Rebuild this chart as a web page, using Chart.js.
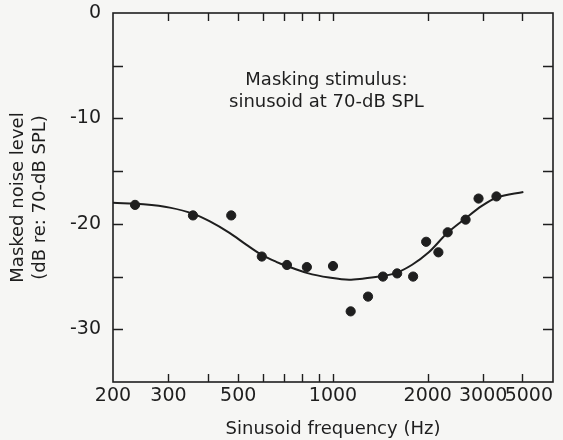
<!DOCTYPE html>
<html>
<head>
<meta charset="utf-8">
<script src="https://cdn.jsdelivr.net/npm/chart.js@4/dist/chart.umd.min.js"></script>
<style>
  html, body { margin: 0; padding: 0; background: #f6f6f4; }
  #c { display: block; }
</style>
</head>
<body>
<canvas id="c" width="563" height="440"></canvas>
<script>
// ---- data ----
const pointFreqs  = [235, 359, 475, 594, 714, 826, 1000, 1138, 1292, 1441, 1599, 1797, 1977, 2162, 2314, 2638, 2900, 3306];
const pointLevels = [-18.2, -19.2, -19.2, -23.1, -23.9, -24.1, -24.0, -28.3, -26.9, -25.0, -24.7, -25.0, -21.7, -22.7, -20.8, -19.6, -17.6, -17.4];

const curveFreqs  = [200, 250, 303, 360, 405, 469, 530, 594, 660, 709, 830, 972, 1125, 1240, 1400, 1581, 1784, 2015, 2303, 2633, 2971, 3314, 4025];
const curveLevels = [-18.0, -18.15, -18.46, -19.05, -19.74, -20.85, -21.97, -22.95, -23.6, -23.97, -24.67, -25.09, -25.3, -25.2, -25.0, -24.67, -23.88, -22.7, -20.9, -19.5, -18.3, -17.5, -16.97];

const xTickValues = [200, 300, 400, 500, 600, 700, 800, 900, 1000, 2000, 3000, 4000, 5000];
const xTickLabels = [200, 300, 500, 1000, 2000, 3000, 5000];
const yLabelValues = [0, -10, -20, -30];

const xTitle = 'Sinusoid frequency (Hz)';
const yTitle = ['Masked noise level', '(dB re: 70-dB SPL)'];
const noteLines = ['Masking stimulus:', 'sinusoid at 70-dB SPL'];

// ---- chart ----
const INK = '#1e1e1e';
const FONT = "'DejaVu Sans', sans-serif";

const framePlugin = {
  id: 'frame',
  afterDatasetsDraw(chart) {
    const { ctx, chartArea: a, scales } = chart;
    const x = scales.x, y = scales.y;
    ctx.save();
    ctx.strokeStyle = INK;
    ctx.lineWidth = 1.6;
    ctx.strokeRect(a.left, a.top, a.right - a.left, a.bottom - a.top);
    ctx.lineWidth = 1.4;
    ctx.beginPath();
    xTickValues.forEach(v => {
      if (v <= x.min || v >= x.max) return;
      const px = Math.round(x.getPixelForValue(v)) + 0.5;
      ctx.moveTo(px, a.bottom); ctx.lineTo(px, a.bottom - 8);
      ctx.moveTo(px, a.top); ctx.lineTo(px, a.top + 8);
    });
    for (let v = y.max; v >= y.min; v -= 5) {
      if (v === y.max || v === y.min) continue;
      const py = Math.round(y.getPixelForValue(v)) + 0.5;
      ctx.moveTo(a.left, py); ctx.lineTo(a.left + 10, py);
      ctx.moveTo(a.right, py); ctx.lineTo(a.right - 10, py);
    }
    ctx.stroke();
    ctx.fillStyle = INK;
    ctx.font = "18px " + FONT;
    ctx.textAlign = 'center';
    ctx.textBaseline = 'middle';
    const cx = a.left + (a.right - a.left) * 0.485;
    noteLines.forEach((t, i) => ctx.fillText(t, cx, a.top + 67 + i * 22));
    ctx.restore();
  }
};

new Chart(document.getElementById('c'), {
  type: 'scatter',
  data: {
    datasets: [
      {
        label: 'fit',
        data: curveFreqs.map((f, i) => ({ x: f, y: curveLevels[i] })),
        showLine: true,
        borderColor: INK,
        borderWidth: 2,
        pointRadius: 0,
        cubicInterpolationMode: 'monotone',
        order: 2
      },
      {
        label: 'data',
        data: pointFreqs.map((f, i) => ({ x: f, y: pointLevels[i] })),
        showLine: false,
        backgroundColor: INK,
        borderColor: INK,
        pointRadius: 4.6,
        order: 1
      }
    ]
  },
  options: {
    responsive: false,
    animation: false,
    layout: { padding: { top: 13, right: 10, left: 0, bottom: 0 } },
    plugins: { legend: { display: false }, tooltip: { enabled: false } },
    scales: {
      x: {
        type: 'logarithmic',
        min: 200, max: 5000,
        afterBuildTicks(scale) { scale.ticks = xTickValues.map(v => ({ value: v })); },
        afterFit(scale) { scale.height = 58; scale.paddingLeft = 0; scale.paddingRight = 0; },
        grid: { display: false, drawTicks: false },
        border: { display: false },
        ticks: {
          autoSkip: false, maxRotation: 0, padding: 3,
          color: INK, font: { family: FONT, size: 19 },
          callback(v) {
            if (!xTickLabels.includes(v)) return '';
            return v === 5000 ? '5000\u2007\u2007\u2007\u2007' : String(v);
          }
        },
        title: {
          display: true, text: xTitle, color: INK,
          font: { family: FONT, size: 18 }, padding: { top: 4, bottom: 0 }
        }
      },
      y: {
        min: -35, max: 0,
        afterBuildTicks(scale) { scale.ticks = yLabelValues.map(v => ({ value: v })); },
        afterFit(scale) { scale.width = 113; scale.paddingTop = 0; scale.paddingBottom = 0; },
        grid: { display: false, drawTicks: false },
        border: { display: false },
        ticks: {
          padding: 12, color: INK, font: { family: FONT, size: 19 },
          callback(v) { return String(v); }
        },
        title: {
          display: true, text: yTitle, color: INK,
          font: { family: FONT, size: 18, lineHeight: 1.2 }, padding: { top: 8, bottom: 0 }
        }
      }
    }
  },
  plugins: [framePlugin]
});
</script>
</body>
</html>
